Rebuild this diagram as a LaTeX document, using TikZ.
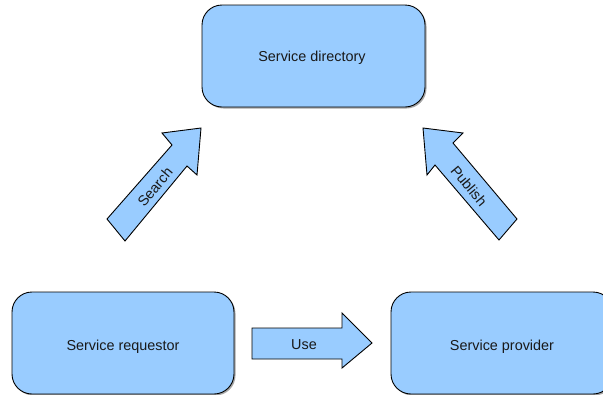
\documentclass[tikz,border=0pt]{standalone}
\usepackage{fontspec}
\setmainfont{Liberation Sans}
\definecolor{boxblue}{HTML}{99CCFF}
\begin{document}
\begin{tikzpicture}[x=1pt,y=-1pt,
  box/.style={draw=black, line width=0.9pt, fill=boxblue, rounded corners=20pt},
  shadowbox/.style={fill=black!35, rounded corners=20pt},
  flow/.style={draw=black, line width=0.9pt, fill=boxblue, line join=miter},
  lbl/.style={font=\fontsize{14.4}{16}\selectfont, inner sep=0pt, text=black!90, anchor=base}]
\useasboundingbox (0,0) rectangle (603,394);
\begin{scope}
\clip (0,0) rectangle (603,394);
% drop shadows
\fill[shadowbox] (203.5,6.5) rectangle (426.5,108.5);
\fill[shadowbox] (13.5,293.5) rectangle (235.5,395.5);
\fill[shadowbox] (392.5,293.5) rectangle (614.5,395.5);
% boxes
\draw[box] (202,5) rectangle (425,107);
\draw[box] (12,292) rectangle (234,394);
\draw[box] (391,292) rectangle (613,394);
\end{scope}
\node[lbl] (dir) at (312,61.5) {Service directory};
\node[lbl] (req) at (123,350) {Service requestor};
\node[lbl] (prov) at (502,350) {Service provider};
% block arrows
\draw[flow] (107,219) -- (172,145) -- (162,133) -- (201,128) -- (197,175) -- (187,166) -- (125,241) -- cycle;
\draw[flow] (517,219) -- (453,143) -- (463,133) -- (423,128) -- (427,175) -- (435,165) -- (499,240) -- cycle;
\draw[flow] (252,328) -- (342,328) -- (342,313) -- (372,343) -- (342,368) -- (342,359) -- (252,359) -- cycle;
\node[lbl, anchor=center, rotate=50] (search) at (155,187) {Search};
\node[lbl, anchor=center, rotate=-50] (publish) at (469,186) {Publish};
\node[lbl] (use) at (304,349) {Use};
\end{tikzpicture}
\end{document}
